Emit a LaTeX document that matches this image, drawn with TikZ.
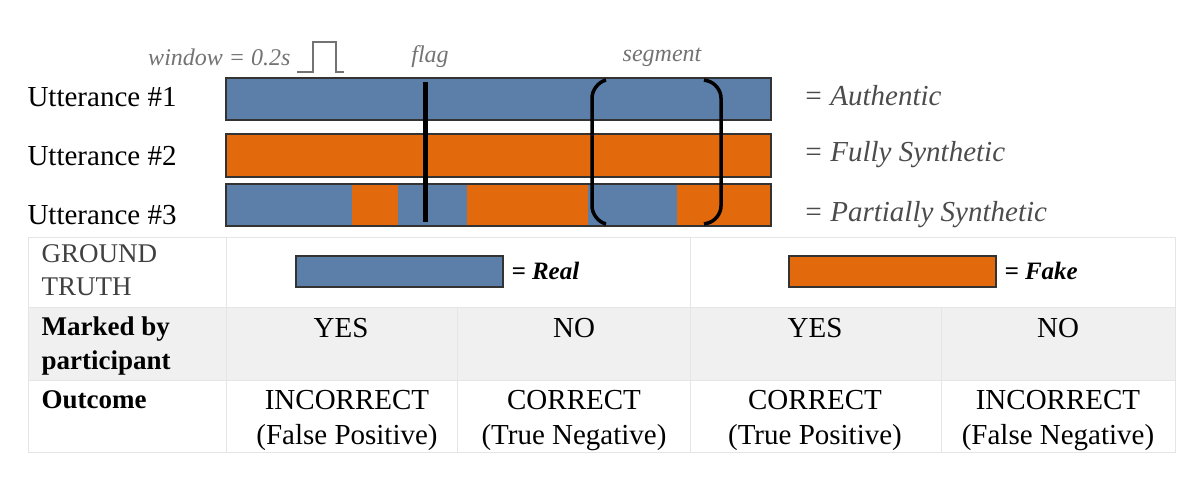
\documentclass[tikz,border=0pt]{standalone}
\usepackage{fontspec}
\setmainfont{Liberation Serif}
\definecolor{realblue}{HTML}{5B7FA8}
\definecolor{fakeorange}{HTML}{E36A0C}
\definecolor{rowgray}{HTML}{F0F0F0}
\begin{document}
\begin{tikzpicture}[x=1pt,y=-1pt,
  bar/.style={draw=black!80,line width=1.2pt},
  lbl/.style={anchor=west,font=\fontsize{29}{31}\selectfont},
  tag/.style={anchor=west,font=\fontsize{29}{31}\selectfont\itshape,text=black!70},
  cell/.style={font=\fontsize{29}{35}\selectfont,align=center,anchor=north},
  note/.style={font=\fontsize{24}{26}\selectfont\itshape,text=black!55}]
  \useasboundingbox (0,0) rectangle (1200,488);

  %% labels of the three utterances
  \node[lbl] (u1) at (24,97) {Utterance \#1};
  \node[lbl] (u2) at (24,156) {Utterance \#2};
  \node[lbl] (u3) at (24,215) {Utterance \#3};

  %% bars
  \fill[realblue] (226,78) rectangle (771,120);
  \fill[fakeorange] (226,134) rectangle (771,177);
  \fill[realblue] (226,184) rectangle (352,226);
  \fill[fakeorange] (352,184) rectangle (398,226);
  \fill[realblue] (398,184) rectangle (467,226);
  \fill[fakeorange] (467,184) rectangle (588,226);
  \fill[realblue] (588,184) rectangle (677,226);
  \fill[fakeorange] (677,184) rectangle (771,226);
  \draw[bar] (226,78) rectangle (771,120);
  \draw[bar] (226,134) rectangle (771,177);
  \draw[bar] (226,184) rectangle (771,226);

  \node[tag] (a1) at (800,96) {= Authentic};
  \node[tag] (a2) at (800,155) {= Fully Synthetic};
  \node[tag] (a3) at (800,215) {= Partially Synthetic};

  %% window, flag and segment
  \node[note,anchor=east] (win) at (294,57) {window = 0.2s};
  \draw[black!55,line width=1.2pt] (297,72) -- (313,72) -- (313,42) -- (336,42) -- (336,72) -- (344,72);
  \node[note] (flg) at (430,57) {flag};
  \node[note] (seg) at (662,57) {segment};
  \draw[line width=5pt] (425,82) -- (425,222);
  \draw[line width=3.5pt,rounded corners=14pt] (606,80) -- (592,84) -- (592,220) -- (606,224);
  \draw[line width=3.5pt,rounded corners=14pt] (704,80) -- (721,84) -- (721,220) -- (704,224);

  %% table
  \fill[rowgray] (28,307) rectangle (1175,380);
  \draw[black!10,line width=0.8pt] (28,237) rectangle (1175,452);
  \draw[black!10,line width=0.8pt] (28,307) -- (1175,307) (28,380) -- (1175,380);
  \draw[black!10,line width=0.8pt] (226,237) -- (226,452) (690,237) -- (690,452);
  \draw[black!10,line width=0.8pt] (457,307) -- (457,452) (941,307) -- (941,452);

  \node[cell,anchor=north west,align=left,text=black!75,font=\fontsize{27}{33}\selectfont] (gt) at (38,241) {GROUND\\TRUTH};
  \draw[bar,fill=realblue] (296,256) rectangle (503,287);
  \node[anchor=west,font=\fontsize{25}{27}\selectfont\bfseries\itshape] (real) at (508,271) {= Real};
  \draw[bar,fill=fakeorange] (789,256) rectangle (996,287);
  \node[anchor=west,font=\fontsize{25}{27}\selectfont\bfseries\itshape] (fake) at (1001,271) {= Fake};

  \node[cell,anchor=north west,align=left,font=\fontsize{27}{34}\selectfont\bfseries] (mk) at (38,313) {Marked by\\participant};
  \node[cell] (m1) at (341,315) {YES};
  \node[cell] (m2) at (574,315) {NO};
  \node[cell] (m3) at (815,315) {YES};
  \node[cell] (m4) at (1058,315) {NO};

  \node[cell,anchor=north west,font=\fontsize{27}{33}\selectfont\bfseries] (oc) at (38,387) {Outcome};
  \node[cell] (o1) at (347,387) {INCORRECT\\(False Positive)};
  \node[cell] (o2) at (574,387) {CORRECT\\(True Negative)};
  \node[cell] (o3) at (815,387) {CORRECT\\(True Positive)};
  \node[cell] (o4) at (1058,387) {INCORRECT\\(False Negative)};
\end{tikzpicture}
\end{document}
